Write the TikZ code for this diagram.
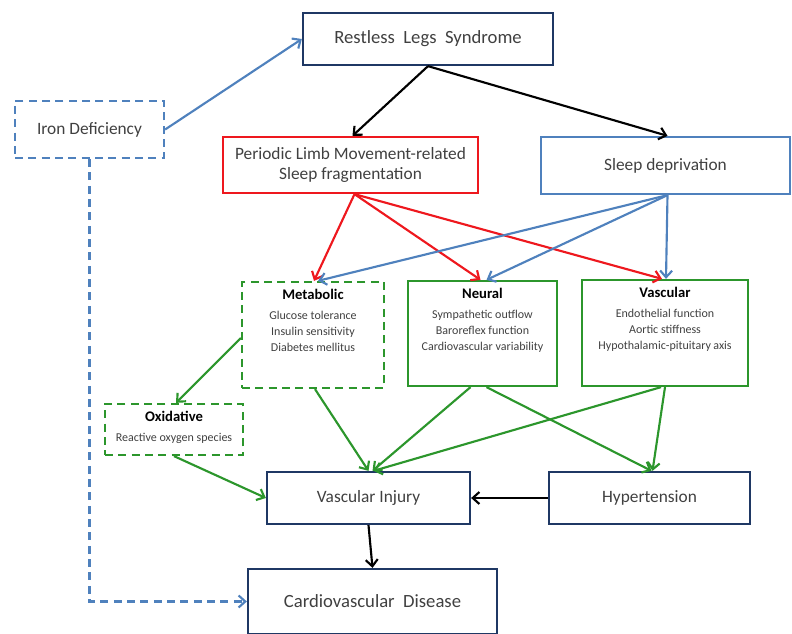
\documentclass[tikz,border=0pt]{standalone}
\usepackage{fontspec}
\setmainfont{Carlito}
\usepackage{xcolor}
\usepackage{tikz}
\usetikzlibrary{arrows.meta, calc}
\definecolor{rlsnavy}{RGB}{31,56,100}
\definecolor{lineblue}{RGB}{79,129,189}
\definecolor{plmred}{RGB}{238,24,30}
\definecolor{factgreen}{RGB}{44,150,44}
\definecolor{textgray}{RGB}{64,64,64}
\newcommand{\factorbox}[3]{\parbox[c][#1][t]{100pt}{\centering
  \vspace{2pt}{\fontsize{11}{13}\selectfont\bfseries\color{black}#2\par}
  \vspace{3pt}{\fontsize{9}{12}\selectfont\color{textgray}#3\par}}}
\tikzset{
  block/.style={rectangle, draw, line width=1.7pt, align=center,
    text=textgray, inner sep=2pt, font=\fontsize{13}{15.5}\selectfont},
  navyblock/.style={block, draw=rlsnavy},
  redblock/.style={block, draw=plmred},
  blueblock/.style={block, draw=lineblue},
  ironblock/.style={block, draw=lineblue, dash pattern=on 6pt off 4pt},
  factorblock/.style={block, draw=factgreen, inner sep=0pt},
  factordash/.style={factorblock, dash pattern=on 6pt off 4pt},
  arrow/.style={-{Straight Barb[length=5pt, width=9pt]}, line width=1.6pt},
  blackarrow/.style={arrow, black},
  redarrow/.style={arrow, plmred},
  bluearrow/.style={arrow, lineblue},
  greenarrow/.style={arrow, factgreen},
}
\begin{document}
\begin{tikzpicture}[x=0.75pt, y=-0.75pt]
  \useasboundingbox (0,0) rectangle (792,634);

  % Top row
  \node[navyblock, minimum width=187.5pt, minimum height=39pt,
        font=\fontsize{14}{16}\selectfont] (rls) at (428,39)
    {Restless\ \ Legs\ \ Syndrome};
  \node[ironblock, minimum width=111.75pt, minimum height=42.75pt] (iron)
    at (89.5,129.5) {Iron Deficiency};
  \node[redblock, minimum width=191.25pt, minimum height=42pt] (plm)
    at (350.5,165) {Periodic Limb Movement-related\\Sleep fragmentation};
  \node[blueblock, minimum width=186.75pt, minimum height=42.75pt] (sleep)
    at (665.5,165.5) {Sleep deprivation};

  % Mechanism boxes
  \node[factordash, minimum width=106.5pt, minimum height=79.5pt] (meta)
    at (313,335) {\factorbox{72pt}{Metabolic}
      {Glucose tolerance\\Insulin sensitivity\\Diabetes mellitus}};
  \node[factorblock, minimum width=111.75pt, minimum height=78.75pt] (neural)
    at (482.5,333.5) {\factorbox{72pt}{Neural}
      {Sympathetic outflow\\Baroreflex function\\Cardiovascular variability}};
  \node[factorblock, minimum width=124.5pt, minimum height=79.5pt] (vasc)
    at (665,333) {\factorbox{72pt}{Vascular}
      {Endothelial function\\Aortic stiffness\\Hypothalamic-pituitary axis}};
  \node[factordash, minimum width=103.5pt, minimum height=38.25pt] (ox)
    at (174,429.5) {\factorbox{32pt}{Oxidative}{Reactive oxygen species}};

  % Outcomes
  \node[navyblock, minimum width=152.25pt, minimum height=39pt] (vi)
    at (368.5,498) {Vascular Injury};
  \node[navyblock, minimum width=150.75pt, minimum height=39pt] (ht)
    at (649.5,498) {Hypertension};
  \node[navyblock, minimum width=186.75pt, minimum height=48.75pt,
        font=\fontsize{14}{16}\selectfont] (cvd)
    at (372.5,601.5) {Cardiovascular\ \ Disease};

  % Arrows
  \coordinate (plmout) at ($(plm.south)+(4,0)$);
  \coordinate (sleepout) at ($(sleep.south)+(2,0)$);
  \draw[bluearrow] (iron.east) -- (rls.west);
  \draw[blackarrow] (rls.south) -- ($(plm.north)+(2,0)$);
  \draw[blackarrow] (rls.south) -- ($(sleep.north)+(2,0)$);
  \draw[redarrow] (plmout) -- ($(meta.north)+(1,0)$);
  \draw[redarrow] (plmout) -- ($(neural.north)+(-2,0)$);
  \draw[redarrow] (plmout) -- ($(vasc.north)+(-3,0)$);
  \draw[bluearrow] (sleepout) -- ($(meta.north)+(5,0)$);
  \draw[bluearrow] (sleepout) -- ($(neural.north)+(4,0)$);
  \draw[bluearrow] (sleepout) -- ($(vasc.north)+(1,0)$);
  \draw[greenarrow] ($(meta.west)+(0,3)$) -- ($(ox.north)+(2,0)$);
  \draw[greenarrow] ($(meta.south)+(2,0)$) -- (vi.north);
  \draw[greenarrow] ($(neural.south)+(-12,0)$) -- ($(vi.north)+(4,0)$);
  \draw[greenarrow] ($(neural.south)+(4,0)$) -- ($(ht.north)+(2,0)$);
  \draw[greenarrow] ($(vasc.south)+(-4,0)$) -- ($(vi.north)+(5,0)$);
  \draw[greenarrow] (vasc.south) -- ($(ht.north)+(3,0)$);
  \draw[greenarrow] (ox.south) -- (vi.west);
  \draw[blackarrow] (ht.west) -- (vi.east);
  \draw[blackarrow] (vi.south) -- (cvd.north);
  \draw[bluearrow, dash pattern=on 6pt off 4pt] (iron.south) |- (cvd.west);
\end{tikzpicture}
\end{document}
